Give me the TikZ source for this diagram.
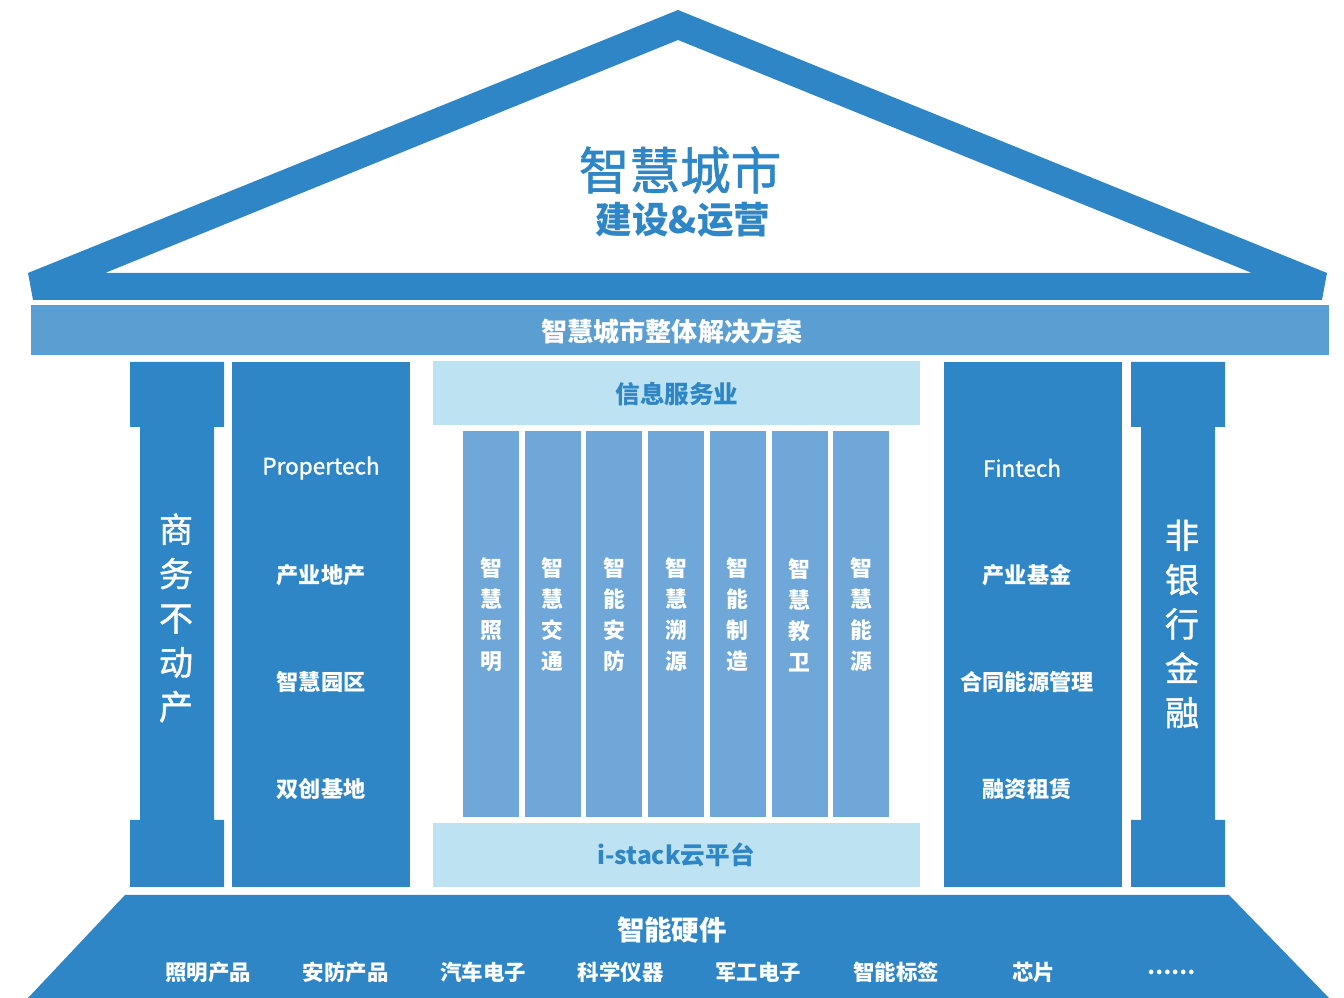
\documentclass[tikz,border=0pt]{standalone}
\usepackage{fontspec}
\setmainfont{Noto Sans CJK SC}
\newfontfamily\medfont{Noto Sans CJK SC}[FakeBold=1.2]
\definecolor{houseblue}{HTML}{2E86C6}
\definecolor{bandblue}{HTML}{5B9FD2}
\definecolor{stripblue}{HTML}{6FA8D8}
\definecolor{lightblue}{HTML}{BDE3F3}
\definecolor{titleblue}{HTML}{2F86C6}

\begin{document}
\begin{tikzpicture}[x=0.01cm,y=-0.01cm,
    coltext/.style={text=white,font=\bfseries\fontsize{6.3pt}{7pt}\selectfont},
    striptext/.style={text=white,align=center,font=\bfseries\fontsize{6.2pt}{8.8pt}\selectfont},
    pillartext/.style={text=white,align=center,font=\medfont\fontsize{9.7pt}{12.6pt}\selectfont},
    midtext/.style={text=titleblue,font=\bfseries\fontsize{7pt}{8pt}\selectfont},
    basetext/.style={text=white,font=\bfseries\fontsize{6.1pt}{7pt}\selectfont}]
  \useasboundingbox (0,0) rectangle (1344,998);

  % Roof
  \fill[houseblue,even odd rule] (28,273) -- (678,10) -- (1327,273) -- (1322,300) -- (33,300) -- cycle
    (105,273) -- (678,40) -- (1252,273) -- cycle;
  \node[text=titleblue,font=\medfont\fontsize{14.4pt}{16pt}\selectfont] (title) at (680,170) {智慧城市};
  \node[text=titleblue,font=\bfseries\fontsize{10.4pt}{12pt}\selectfont] (subtitle) at (683,220) {建设\&运营};

  % Band
  \fill[bandblue] (31,305) rectangle (1329,355);
  \node[text=white,font=\bfseries\fontsize{7.4pt}{8pt}\selectfont] (solution) at (672,331) {智慧城市整体解决方案};

  % Pillars
  \foreach \x in {130,1131}
    \fill[houseblue] (\x,362) -- ++(94,0) -- ++(0,65) -- ++(-10,0) -- ++(0,393) -- ++(10,0)
      -- ++(0,67) -- ++(-94,0) -- ++(0,-67) -- ++(10,0) -- ++(0,-393) -- ++(-10,0) -- cycle;
  \node[pillartext] (estate) at (176,618) {商\\务\\不\\动\\产};
  \node[pillartext] (finance) at (1182,624) {非\\银\\行\\金\\融};

  % Columns
  \fill[houseblue] (232,362) rectangle (410,887);
  \fill[houseblue] (944,362) rectangle (1122,887);
  \node[coltext,font=\medfont\fontsize{6.4pt}{7pt}\selectfont] (left1) at (321,468) {Propertech};
  \foreach \t [count=\i from 2] in {产业地产,智慧园区,双创基地}
    \node[coltext] (left\i) at (321,361+107*\i) {\t};
  \node[coltext,font=\medfont\fontsize{6.4pt}{7pt}\selectfont] (right1) at (1022,468) {Fintech};
  \foreach \t [count=\i from 2] in {产业基金,合同能源管理,融资租赁}
    \node[coltext] (right\i) at (1027,361+107*\i) {\t};

  % Middle
  \fill[lightblue] (433,361) rectangle (920,425);
  \node[midtext] (info) at (677,394) {信息服务业};
  \foreach \t [count=\i] in {{智\\慧\\照\\明},{智\\慧\\交\\通},{智\\能\\安\\防},{智\\慧\\溯\\源},
      {智\\能\\制\\造},{智\\慧\\教\\卫},{智\\慧\\能\\源}} {
    \fill[stripblue] ({463+61.7*(\i-1)},431) rectangle +(56,386);
    \node[striptext] (strip\i) at ({491+61.7*(\i-1)},615) {\t};
  }
  \fill[lightblue] (433,823) rectangle (920,887);
  \node[midtext] (cloud) at (676,855) {i-stack云平台};

  % Base
  \fill[houseblue] (125,895) -- (1229,895) -- (1329,998) -- (28,998) -- cycle;
  \node[text=white,font=\bfseries\fontsize{7.8pt}{9pt}\selectfont] (hardware) at (672,930) {智能硬件};
  \foreach \t [count=\i] in {照明产品,安防产品,汽车电子,科学仪器,军工电子,智能标签,芯片,……}
    \node[basetext] (item\i) at ({208+137.6*(\i-1)},972) {\t};
\end{tikzpicture}
\end{document}
